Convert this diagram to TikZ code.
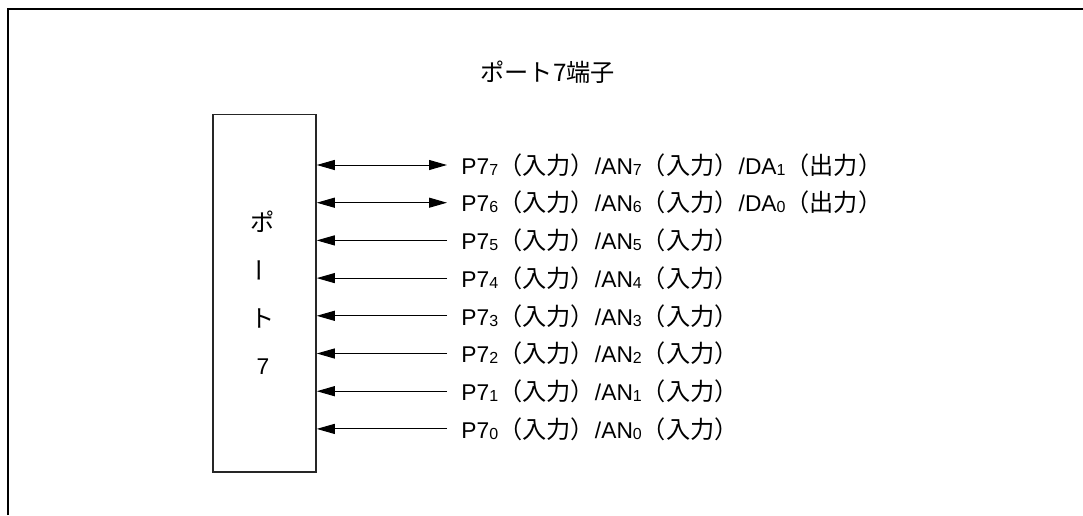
\documentclass[tikz,border=0pt]{standalone}
\usepackage{fontspec}
\setmainfont{Liberation Sans}
\newfontfamily\jpfont{Noto Sans CJK JP}
\usetikzlibrary{arrows.meta}
\newcommand{\jp}[1]{{\jpfont\fontsize{12.1}{14}\selectfont #1}}
\newcommand{\pinsub}[1]{\raisebox{-0.5pt}{\fontsize{8}{9}\selectfont #1}}

\begin{document}
\begin{tikzpicture}[
  x=0.5pt,
  y=-0.5pt,
  every node/.style={font=\fontsize{11.4}{13}\selectfont, inner sep=0pt},
  frame/.style={line width=1pt},
  portbox/.style={draw=black!85, line width=0.75pt,
                  minimum width=51.5pt, minimum height=178.75pt},
  pinlabel/.style={anchor=base west},
  inpin/.style={line width=0.5pt, -{Triangle[length=9pt, width=5pt]}},
  iopin/.style={line width=0.5pt,
                {Triangle[length=9pt, width=5pt]}-{Triangle[length=9pt, width=5pt]}}
]
  \useasboundingbox (0,0) rectangle (1083,515);

  % ---- outer frame (open at the bottom and on the right) ---------------
  \draw[frame] (8,515) -- (8,8.5) -- (1083,8.5);

  % ---- title ------------------------------------------------------------
  \node[anchor=base west] (title) at (480,81) {\jp{ポート7端子}};

  % ---- the port block ---------------------------------------------------
  \node[portbox] (port) at (264.5,293.25) {};
  \node (v1) at (263,222) {\jp{ポ}};
  \node[rotate=90] (v2) at (263,270) {\jp{ー}};
  \node (v3) at (263,318) {\jp{ト}};
  \node (v4) at (263,367) {7};

  % ---- pins 7 and 6: both ways ------------------------------------------
  \coordinate (t7) at (447,165);
  \coordinate (t6) at (447,202.7);
  \node[pinlabel] (l7) at ([xshift=7pt, yshift=-4.6pt]t7)
    {P7\pinsub{7}\jp{（入力）}/AN\pinsub{7}\jp{（入力）}/DA\pinsub{1}\jp{（出力）}};
  \node[pinlabel] (l6) at ([xshift=7pt, yshift=-4.6pt]t6)
    {P7\pinsub{6}\jp{（入力）}/AN\pinsub{6}\jp{（入力）}/DA\pinsub{0}\jp{（出力）}};
  \draw[iopin] (port.east |- t7) -- (t7);
  \draw[iopin] (port.east |- t6) -- (t6);

  % ---- pins 5 to 0: inputs only -----------------------------------------
  \foreach \i in {0,...,5} {
    \coordinate (t\i) at (447,{165+(7-\i)*37.7});
    \node[pinlabel] (l\i) at ([xshift=7pt, yshift=-4.6pt]t\i)
      {P7\pinsub{\i}\jp{（入力）}/AN\pinsub{\i}\jp{（入力）}};
    \draw[inpin] (t\i) -- (port.east |- t\i);
  }
\end{tikzpicture}
\end{document}
